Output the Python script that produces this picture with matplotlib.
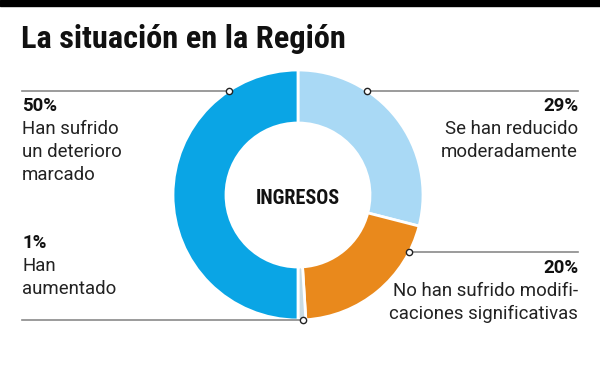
import matplotlib
matplotlib.use("Agg")
import matplotlib.pyplot as plt
from matplotlib import font_manager
import numpy as np

# data
values = [29, 20, 1, 50]
colors = ["#a9d9f5", "#e9891c", "#c9dbe3", "#0aa5e5"]
title = "La situación en la Región"
center_label = "INGRESOS"

labels_left = [("50%", ["Han sufrido", "un deterioro", "marcado"]),
               ("1%", ["Han", "aumentado"])]
labels_right = [("29%", ["Se han reducido", "moderadamente"]),
                ("20%", ["No han sufrido modifi-", "caciones significativas"])]


def pick_font(names):
    avail = {f.name for f in font_manager.fontManager.ttflist}
    for n in names:
        if n in avail:
            return n
    return "DejaVu Sans"


body_font = pick_font(["Roboto", "DejaVu Sans"])
title_font = pick_font(["Roboto Condensed", "Liberation Sans Narrow", "Roboto"])

W, H = 600, 365
fig = plt.figure(figsize=(6, 3.65), dpi=100)
ax = fig.add_axes([0, 0, 1, 1])

cx, cy, r_out, ring = 298, H - 195, 125, 53

ax.pie(values, colors=colors, startangle=90, counterclock=False,
       center=(cx, cy), radius=r_out,
       wedgeprops=dict(width=ring, edgecolor="white", linewidth=2))

ax.set_xlim(0, W)
ax.set_ylim(0, H)
ax.set_aspect("equal")
ax.axis("off")

# black band on top
ax.axhspan(H - 6, H, color="black")

ax.text(21, H - 38.5, title, fontsize=23.3, fontweight="bold", family=title_font,
        va="center", ha="left", color="#111111")

ax.text(cx, cy - 4, center_label, fontsize=14.5, fontweight="bold",
        family=title_font, ha="center", va="center", color="#111111")

line_col = "#8a8a8a"


def circle_x(y_px, side):
    dy = (H - y_px) - cy
    dx = np.sqrt(max(r_out ** 2 - dy ** 2, 0))
    return cx + side * dx


def leader(y_px, x_end, side, xdot=None):
    y = H - y_px
    if xdot is None:
        xdot = circle_x(y_px, side)
    ax.plot([x_end, xdot], [y, y], color=line_col, lw=1.2, zorder=3)
    ax.plot(xdot, y, "o", ms=4.5, mfc="white", mec="#222222", mew=1, zorder=4)


leader(91, 22, -1)
leader(91, 578, 1)
leader(252, 578, 1)
leader(320, 22, 1, xdot=cx + 5)

fs = 13.4
lh = 23
for (pct, lines), y0 in zip(labels_left, [106, 243]):
    ax.text(22, H - y0, pct, fontsize=fs, fontweight="bold", family=body_font,
            ha="left", va="center", color="#111111")
    for i, t in enumerate(lines):
        ax.text(22, H - y0 - lh * (i + 1), t, fontsize=fs, family=body_font,
                ha="left", va="center", color="#222222")

for (pct, lines), y0 in zip(labels_right, [106, 268]):
    ax.text(578, H - y0, pct, fontsize=fs, fontweight="bold", family=body_font,
            ha="right", va="center", color="#111111")
    for i, t in enumerate(lines):
        ax.text(578, H - y0 - lh * (i + 1), t, fontsize=fs, family=body_font,
                ha="right", va="center", color="#222222")

fig.savefig("out.png", dpi=100)
